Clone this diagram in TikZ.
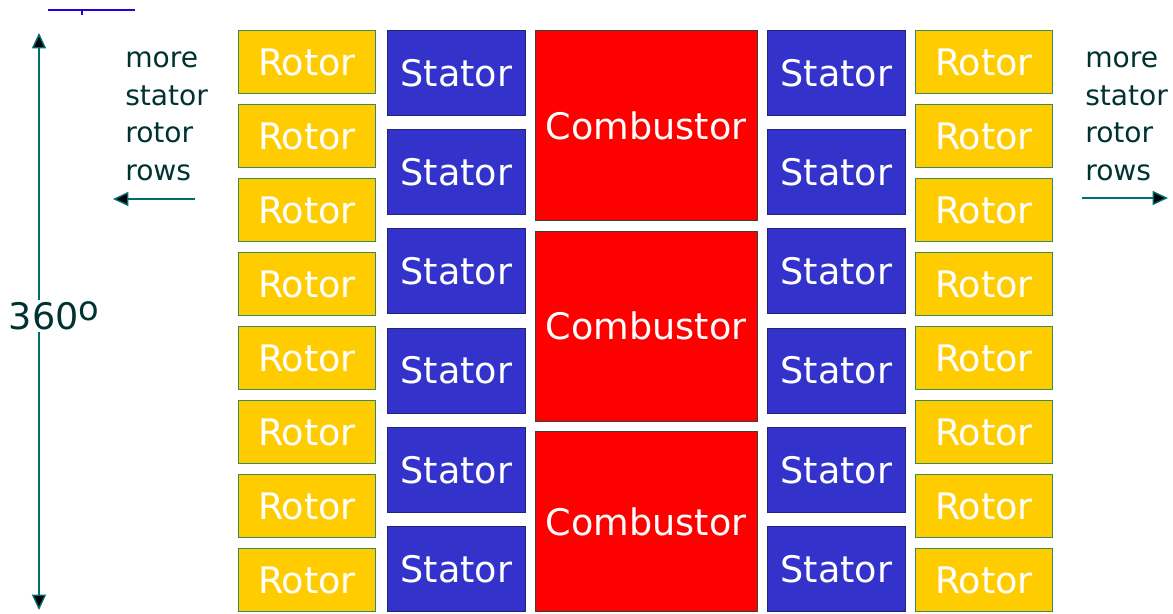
\documentclass[tikz,border=0pt]{standalone}
\usepackage{fontspec}
\setmainfont{DejaVu Sans}
\usetikzlibrary{arrows.meta}

\definecolor{rotorgold}{RGB}{255,204,0}
\definecolor{rotoredge}{RGB}{51,140,90}
\definecolor{statorblue}{RGB}{51,51,204}
\definecolor{statoredge}{RGB}{35,35,120}
\definecolor{combred}{RGB}{255,0,0}
\definecolor{combedge}{RGB}{50,70,60}
\definecolor{inktext}{RGB}{0,50,50}
\definecolor{inkline}{RGB}{0,110,110}

\begin{document}
\begin{tikzpicture}[
  x=0.025cm, y=-0.025cm,
  font=\fontsize{26}{30}\selectfont,
  box/.style={anchor=north west, inner sep=0pt, line width=0.7pt, text=white},
  rotor/.style={box, draw=rotoredge, fill=rotorgold,
    minimum width=3.425cm, minimum height=1.575cm},
  stator/.style={box, draw=statoredge, fill=statorblue,
    minimum width=3.45cm, minimum height=2.125cm},
  combustor/.style={box, draw=combedge, fill=combred,
    minimum width=5.54cm, minimum height=4.75cm},
  flow/.style={draw=inkline, line width=1pt,
    -{Triangle[length=11pt,width=10pt,fill=black]}},
  note/.style={anchor=north west, align=left, inner sep=0pt, text=inktext,
    font=\fontsize{20}{27}\selectfont}
]
  % 页面范围
  \useasboundingbox (0,0) rectangle (1173,613);

  % 顶部残线
  \draw[blue!70!violet, line width=1.2pt] (48,10) -- (135,10);
  \draw[blue!70!violet, line width=1.2pt] (82,10) -- (82,15);

  % 转子列
  \foreach \i in {1,...,8} {
    \node[rotor] (rotL\i) at (238,{30+(\i-1)*74}) {Rotor};
    \node[rotor] (rotR\i) at (915,{30+(\i-1)*74}) {Rotor};
  }

  % 静子列
  \foreach \i in {1,...,6} {
    \node[stator] (statL\i) at (387,{30+(\i-1)*99.2}) {Stator};
    \node[stator] (statR\i) at (767,{30+(\i-1)*99.2}) {Stator};
  }

  % 燃烧室
  \node[combustor] (comb1) at (535,30) {Combustor};
  \node[combustor] (comb2) at (535,230.5) {Combustor};
  \node[combustor, minimum height=4.5cm] (comb3) at (535,431) {Combustor};

  % 360 度
  \coordinate (ringTop) at (39,33);
  \coordinate (ringBot) at (39,610);
  \node[text=inktext, inner sep=1pt] (ring) at (54,316)
    {360\raisebox{6pt}{\fontsize{24}{24}\selectfont o}};
  \draw[flow] (ring.north -| ringTop) -- (ringTop);
  \draw[flow] (ring.south -| ringBot) -- (ringBot);

  % 更多级
  \node[note] (moreL) at (125,51) {more\\stator\\rotor\\rows};
  \node[note] (moreR) at (1085,51) {more\\stator\\rotor\\rows};
  \coordinate (outL) at (113,199);
  \coordinate (outR) at (1168,198);
  \draw[flow] (moreL.south west |- outL) ++(70,0) -- (outL);
  \draw[flow] (moreR.south west |- outR) ++(-3,0) -- (outR);

\end{tikzpicture}
\end{document}
